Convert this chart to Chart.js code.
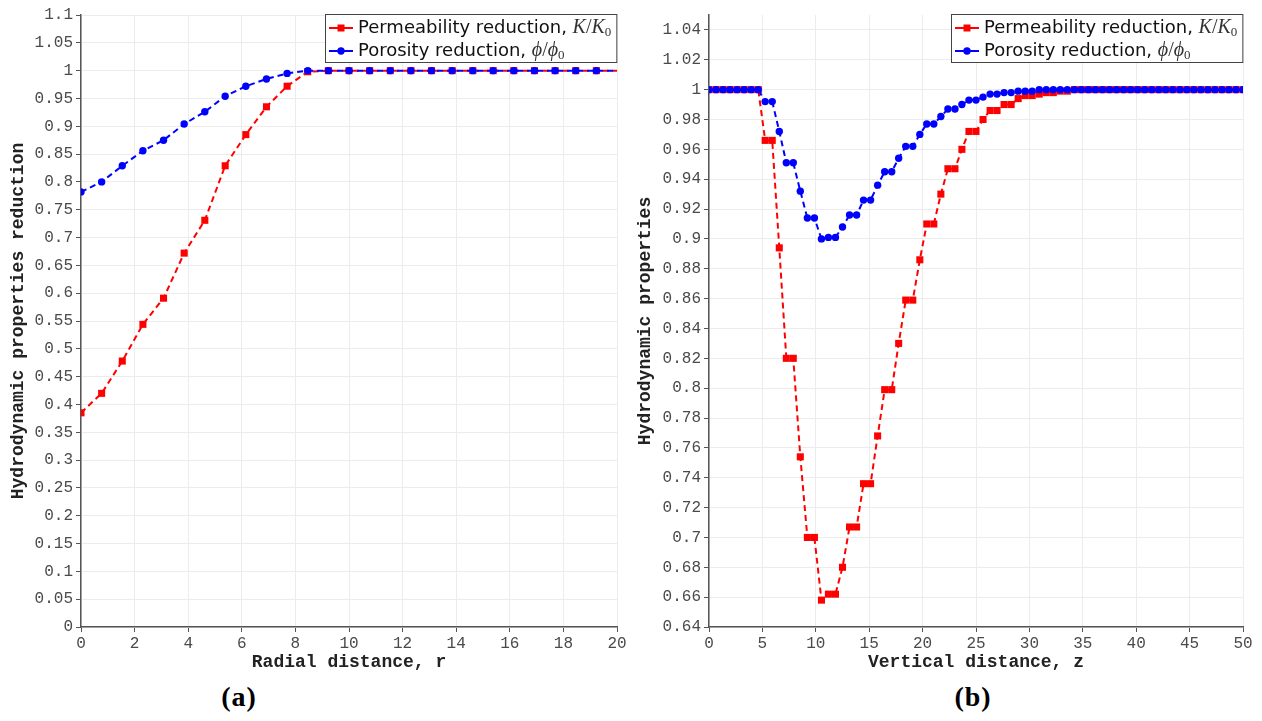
<!DOCTYPE html>
<html>
<head>
<meta charset="utf-8">
<script src="https://cdn.jsdelivr.net/npm/chart.js@4.4.1/dist/chart.umd.min.js"></script>
<style>
  body { margin: 0; background: #fff; }
  #wrap { position: relative; width: 1262px; height: 721px; }
  .box { position: absolute; top: 0; width: 631px; height: 680px; }
  .cap { position: absolute; top: 682px; width: 100px; text-align: center;
         font: bold 28px 'Liberation Serif', 'DejaVu Serif', serif; letter-spacing: 1px;
         line-height: 30px; color: #000; }
</style>
</head>
<body>
<div id="wrap">
  <div class="box" style="left:0"><canvas id="chartA"></canvas></div>
  <div class="box" style="left:631px"><canvas id="chartB"></canvas></div>
  <div class="cap" style="left:189px">(a)</div>
  <div class="cap" style="left:923px">(b)</div>
</div>
<script>
// (a) radial profile
var radialR = [0, 0.77, 1.54, 2.31, 3.08, 3.85, 4.62, 5.38, 6.15, 6.92, 7.69, 8.46, 9.23, 10,
  10.77, 11.54, 12.31, 13.08, 13.85, 14.62, 15.38, 16.15, 16.92, 17.69, 18.46, 19.23, 20];
var permA = [0.385, 0.420, 0.478, 0.544, 0.591, 0.672, 0.731, 0.829, 0.885, 0.935, 0.972, 0.998,
  1, 1, 1, 1, 1, 1, 1, 1, 1, 1, 1, 1, 1, 1, 1];
var poroA = [0.782, 0.800, 0.829, 0.856, 0.875, 0.904, 0.926, 0.954, 0.972, 0.985, 0.995, 1,
  1, 1, 1, 1, 1, 1, 1, 1, 1, 1, 1, 1, 1, 1, 1];

// (b) vertical profile
var vertZ = [0, 0.66, 1.32, 1.97, 2.63, 3.29, 3.95, 4.61, 5.26, 5.92,
  6.58, 7.24, 7.89, 8.55, 9.21, 9.87, 10.53, 11.18, 11.84, 12.5,
  13.16, 13.82, 14.47, 15.13, 15.79, 16.45, 17.11, 17.76, 18.42, 19.08,
  19.74, 20.39, 21.05, 21.71, 22.37, 23.03, 23.68, 24.34, 25, 25.66,
  26.32, 26.97, 27.63, 28.29, 28.95, 29.61, 30.26, 30.92, 31.58, 32.24,
  32.89, 33.55, 34.21, 34.87, 35.53, 36.18, 36.84, 37.5, 38.16, 38.82,
  39.47, 40.13, 40.79, 41.45, 42.11, 42.76, 43.42, 44.08, 44.74, 45.39,
  46.05, 46.71, 47.37, 48.03, 48.68, 49.34, 50];
var permB = [1, 1, 1, 1, 1, 1, 1, 1, 0.966, 0.966,
  0.894, 0.820, 0.820, 0.754, 0.700, 0.700, 0.658, 0.662, 0.662, 0.680,
  0.707, 0.707, 0.736, 0.736, 0.768, 0.799, 0.799, 0.830, 0.859, 0.859,
  0.886, 0.910, 0.910, 0.930, 0.947, 0.947, 0.960, 0.972, 0.972, 0.980,
  0.986, 0.986, 0.990, 0.990, 0.994, 0.996, 0.996, 0.997, 0.998, 0.998,
  0.999, 0.999, 1, 1, 1, 1, 1, 1, 1, 1,
  1, 1, 1, 1, 1, 1, 1, 1, 1, 1,
  1, 1, 1, 1, 1, 1, 1];
var poroB = [1, 1, 1, 1, 1, 1, 1, 1, 0.992, 0.992,
  0.972, 0.951, 0.951, 0.932, 0.914, 0.914, 0.900, 0.901, 0.901, 0.908,
  0.916, 0.916, 0.926, 0.926, 0.936, 0.945, 0.945, 0.954, 0.962, 0.962,
  0.970, 0.977, 0.977, 0.982, 0.987, 0.987, 0.990, 0.993, 0.993, 0.995,
  0.997, 0.997, 0.998, 0.998, 0.999, 0.999, 0.999, 1, 1, 1,
  1, 1, 1, 1, 1, 1, 1, 1, 1, 1,
  1, 1, 1, 1, 1, 1, 1, 1, 1, 1,
  1, 1, 1, 1, 1, 1, 1];

// tick labels
var ticksAX = [0, 2, 4, 6, 8, 10, 12, 14, 16, 18, 20];
var ticksAY = [0, 0.05, 0.1, 0.15, 0.2, 0.25, 0.3, 0.35, 0.4, 0.45, 0.5, 0.55, 0.6,
  0.65, 0.7, 0.75, 0.8, 0.85, 0.9, 0.95, 1, 1.05, 1.1];
var ticksBX = [0, 5, 10, 15, 20, 25, 30, 35, 40, 45, 50];
var ticksBY = [0.64, 0.66, 0.68, 0.7, 0.72, 0.74, 0.76, 0.78, 0.8, 0.82, 0.84, 0.86, 0.88,
  0.9, 0.92, 0.94, 0.96, 0.98, 1, 1.02, 1.04];

var legendNames = ['Permeability reduction, ', 'Porosity reduction, '];
var legendMath = [['K', '/', 'K', '0'], ['\u03D5', '/', '\u03D5', '0']];
var legendColors = ['#ff0000', '#0000ff'];
var legendShapes = ['rect', 'circle'];

// Legende mit Formel (K/K0, phi/phi0) selbst zeichnen
var mathLegend = {
  id: 'mathLegend',
  afterDraw: function(chart) {
    var ctx = chart.ctx, area = chart.chartArea;
    var rows = legendNames.map(function(name, i) {
      var m = legendMath[i];
      return [
        {t: name, f: '18px "DejaVu Sans"', c: '#111', dy: 0},
        {t: m[0], f: 'italic 20px "Liberation Serif", "DejaVu Serif"', c: '#333', dy: 0},
        {t: m[1], f: '20px "Liberation Serif", "DejaVu Serif"', c: '#333', dy: 0},
        {t: m[2], f: 'italic 20px "Liberation Serif", "DejaVu Serif"', c: '#333', dy: 0},
        {t: m[3], f: '13px "Liberation Serif", "DejaVu Serif"', c: '#333', dy: 5}
      ];
    });
    ctx.save();
    var maxW = 0;
    rows.forEach(function(parts) {
      var w = 0;
      parts.forEach(function(p) { ctx.font = p.f; w += ctx.measureText(p.t).width; });
      maxW = Math.max(maxW, w);
    });
    var boxW = 33 + maxW + 6, boxH = 49;
    var x0 = Math.round(area.right - boxW), y0 = Math.round(area.top - 1);
    ctx.fillStyle = '#fff';
    ctx.fillRect(x0, y0, boxW, boxH);
    ctx.strokeStyle = '#444';
    ctx.lineWidth = 1;
    ctx.strokeRect(x0 + 0.5, y0 + 0.5, boxW - 1, boxH - 1);
    rows.forEach(function(parts, i) {
      var cy = y0 + 14 + i * 23;
      ctx.strokeStyle = legendColors[i];
      ctx.lineWidth = 2;
      ctx.beginPath(); ctx.moveTo(x0 + 4, cy); ctx.lineTo(x0 + 28, cy); ctx.stroke();
      ctx.fillStyle = legendColors[i];
      if (legendShapes[i] === 'rect') {
        ctx.fillRect(x0 + 12.5, cy - 3.5, 7, 7);
      } else {
        ctx.beginPath(); ctx.arc(x0 + 16, cy, 3.7, 0, 2 * Math.PI); ctx.fill();
      }
      var tx = x0 + 33;
      ctx.textBaseline = 'middle';
      ctx.textAlign = 'left';
      parts.forEach(function(p) {
        ctx.font = p.f;
        ctx.fillStyle = p.c;
        ctx.fillText(p.t, tx, cy + p.dy);
        tx += ctx.measureText(p.t).width;
      });
    });
    ctx.restore();
  }
};

function fmt(v) { return String(parseFloat(Number(v).toFixed(2))); }

function makeChart(id, xs, perm, poro, cfg) {
  function radii(n, r0) {
    var r = [];
    for (var i = 0; i < n; i++) r.push(cfg.lastHidden && i === n - 1 ? 0 : r0);
    return r;
  }
  var ds = [
    {
      label: 'Porosity reduction',
      data: xs.map(function(x, i) { return {x: x, y: poro[i]}; }),
      borderColor: '#0000ff', backgroundColor: '#0000ff',
      pointStyle: 'circle', pointRadius: radii(xs.length, 3.7), pointBorderWidth: 0,
      borderWidth: 2, borderDash: [6, 4], order: 0
    },
    {
      label: 'Permeability reduction',
      data: xs.map(function(x, i) { return {x: x, y: perm[i]}; }),
      borderColor: '#ff0000', backgroundColor: '#ff0000',
      pointStyle: 'rect', pointRadius: radii(xs.length, 5), pointBorderWidth: 0,
      borderWidth: 2, borderDash: [6, 4], order: 1
    }
  ];
  var tickFont = {family: '"Liberation Mono", "DejaVu Sans Mono", monospace', size: 16};
  var titleFont = {family: '"Liberation Mono", "DejaVu Sans Mono", monospace', size: 18, weight: 'bold'};
  return new Chart(document.getElementById(id).getContext('2d'), {
    type: 'line',
    data: {datasets: ds},
    plugins: [mathLegend],
    options: {
      responsive: true,
      maintainAspectRatio: false,
      animation: false,
      layout: {padding: {left: 0, right: cfg.padRight, top: 15, bottom: 0}},
      plugins: {legend: {display: false}, tooltip: {enabled: false}},
      elements: {line: {tension: 0}},
      scales: {
        x: {
          type: 'linear', min: cfg.xMin, max: cfg.xMax,
          afterBuildTicks: function(s) { s.ticks = cfg.xTicks.map(function(v) { return {value: v}; }); },
          afterFit: function(s) { s.height = 53; },
          grid: {color: '#ececec', tickColor: '#555', tickLength: 5, lineWidth: 1},
          border: {color: '#555', width: 1.5},
          ticks: {font: tickFont, color: '#4a4a4a', padding: 2, maxRotation: 0, autoSkip: false, callback: fmt},
          title: {display: true, text: cfg.xTitle, font: titleFont, color: '#222', padding: {top: 0, bottom: 7}}
        },
        y: {
          type: 'linear', min: cfg.yMin, max: cfg.yMax,
          afterBuildTicks: function(s) { s.ticks = cfg.yTicks.map(function(v) { return {value: v}; }); },
          afterFit: function(s) { s.width = cfg.yWidth; },
          grid: {color: '#ececec', tickColor: '#555', tickLength: 5, lineWidth: 1},
          border: {color: '#555', width: 1.5},
          ticks: {font: tickFont, color: '#4a4a4a', padding: 3, autoSkip: false, callback: fmt},
          title: {display: true, text: cfg.yTitle, font: titleFont, color: '#222', padding: {top: cfg.yTitlePad, bottom: 0}}
        }
      }
    }
  });
}

makeChart('chartA', radialR, permA, poroA, {
  xMin: 0, xMax: 20, yMin: 0, yMax: 1.1, xTicks: ticksAX, yTicks: ticksAY,
  xTitle: 'Radial distance, r', yTitle: 'Hydrodynamic properties reduction',
  yWidth: 81, padRight: 14, yTitlePad: 8, lastHidden: true
});
makeChart('chartB', vertZ, permB, poroB, {
  xMin: 0, xMax: 50, yMin: 0.64, yMax: 1.05, xTicks: ticksBX, yTicks: ticksBY,
  xTitle: 'Vertical distance, z', yTitle: 'Hydrodynamic properties',
  yWidth: 78, padRight: 19, yTitlePad: 4, lastHidden: false
});
</script>
</body>
</html>
